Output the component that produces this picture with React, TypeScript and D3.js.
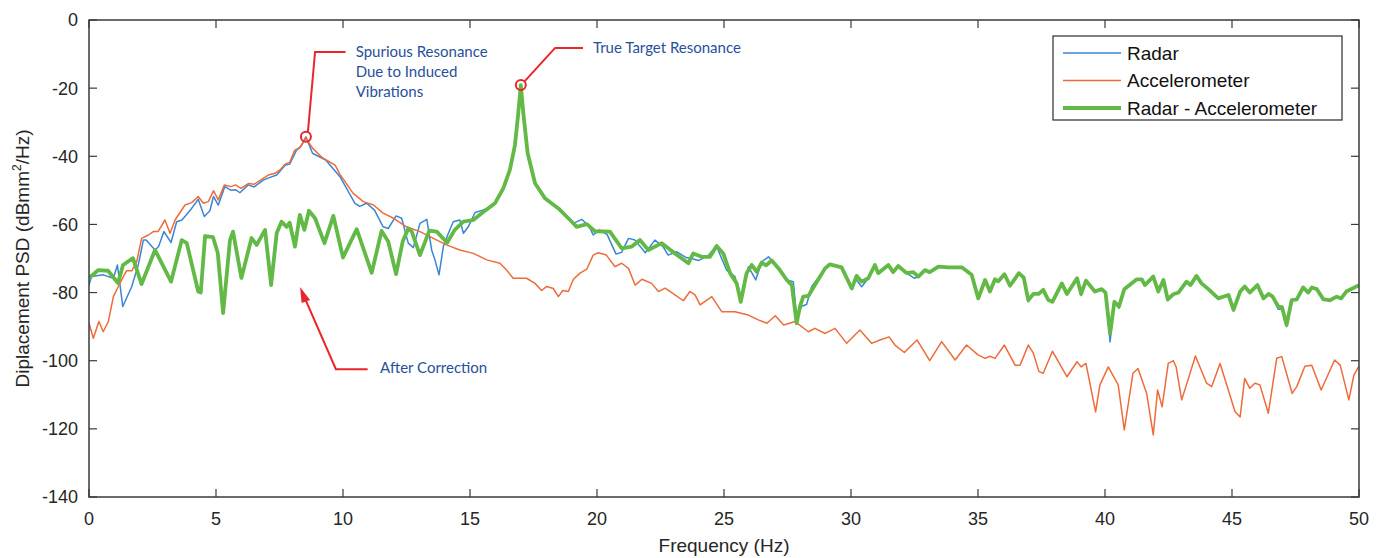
import React from "react";
import * as d3 from "d3";

// [frequency Hz, PSD dB]
const radarPts: [number, number][] = [
  [0, -77.8], [0.1, -75.3], [0.56, -74.8], [0.96, -75.8], [1.12, -71.9], [1.33, -84.1], [1.68, -78.3],
  [1.94, -71.9], [2.14, -64.6], [2.25, -64.6], [2.6, -67.5], [2.74, -66.5], [2.95, -62.1], [3.23, -65.3],
  [3.45, -59.2], [3.66, -58.7], [4.04, -55.3], [4.3, -52.6], [4.54, -57.7], [4.76, -56], [4.9, -51.8],
  [5.09, -54.3], [5.35, -48.9], [5.6, -50], [5.77, -49.8], [5.94, -50.7], [6.27, -48.4], [6.5, -49],
  [6.86, -47], [7.13, -46.2], [7.39, -45.5], [7.72, -42.6], [7.9, -42.3], [8.17, -38.2], [8.35, -37],
  [8.54, -34.3], [8.8, -39.1], [9.32, -41.1], [9.88, -46], [10.14, -49.4], [10.47, -53.8], [10.66, -54.7],
  [10.93, -53.8], [11.24, -55.8], [11.58, -60.7], [11.78, -61.2], [12.09, -57.5], [12.31, -58.2],
  [12.57, -65.5], [12.77, -66.8], [13.03, -59.7], [13.3, -58.5], [13.49, -67.5], [13.62, -70.4],
  [13.78, -74.8], [13.95, -66.5], [14.15, -62.6], [14.34, -59.2], [14.6, -58.7], [14.74, -62.6],
  [14.93, -60.7], [15.2, -56.5], [15.5, -55.8], [15.85, -54.8], [16.0, -53.8], [16.31, -49.4],
  [16.57, -44], [16.77, -36.7], [16.9, -27.4], [17.0, -19.1], [17.1, -27.4], [17.27, -39.1],
  [17.56, -47.9], [17.95, -52.3], [18.48, -55.3], [18.94, -58.7], [19.07, -59.7], [19.4, -58.5],
  [19.7, -60.7], [19.85, -63.1], [20.1, -61.6], [20.4, -63], [20.75, -68.7], [20.97, -68.2],
  [21.24, -64.1], [21.5, -64.6], [21.9, -68.3], [22.28, -64.6], [22.6, -66.5], [22.8, -69], [23.13, -68],
  [23.5, -69.7], [23.73, -70], [23.99, -70.6], [24.4, -69], [24.7, -66.3], [25.1, -73.4], [25.43, -75.3],
  [25.66, -82.2], [25.96, -72.4], [26.25, -76.3], [26.48, -71], [26.75, -69.5], [27.13, -72.9],
  [27.47, -76.3], [27.73, -76.8], [27.86, -87.5], [28.06, -84], [28.25, -83.5], [28.45, -78.3],
  [28.98, -72.9], [29.17, -71.7], [29.63, -72.6], [30.03, -78.8], [30.16, -75.8], [30.42, -78.3],
  [30.68, -75.8], [30.94, -71.9], [31.07, -74.3], [31.47, -71.9], [31.66, -74], [31.86, -72.2],
  [32.19, -74.3], [32.5, -75.8], [32.65, -75.3], [32.91, -73.4], [33.1, -74], [33.44, -72.4],
  [33.83, -72.6], [34.36, -72.6], [34.75, -74.8], [35.01, -81.7], [35.28, -76.3], [35.47, -79.7],
  [35.67, -76.1], [35.8, -76.7], [36.04, -74.6], [36.26, -78], [36.61, -74.3], [36.8, -75.6],
  [36.98, -82.7], [37.18, -80.4], [37.38, -80.4], [37.57, -79.2], [37.77, -82.2], [37.93, -82.7],
  [38.3, -77.3], [38.5, -80.4], [38.9, -75.8], [39.06, -80.9], [39.25, -76.5], [39.6, -79.7],
  [39.87, -79], [40.02, -80], [40.2, -94.5], [40.37, -82.7], [40.55, -84.6], [40.76, -79], [41.25, -76.1],
  [41.45, -76.1], [41.57, -77.8], [41.9, -75.3], [42.1, -79.7], [42.3, -76.3], [42.47, -82.4],
  [42.69, -80.5], [42.89, -80], [43.21, -76.8], [43.37, -77.8], [43.6, -75.1], [43.8, -77.3],
  [44.07, -79], [44.46, -81.7], [44.86, -80.7], [45.06, -85.1], [45.32, -79.7], [45.5, -78.2],
  [45.7, -80], [46.0, -77.8], [46.24, -81.7], [46.44, -80.4], [46.6, -81.2], [46.82, -84.9],
  [46.97, -84.9], [47.15, -90], [47.35, -82.2], [47.55, -82], [47.8, -78.5], [48.0, -80], [48.14, -78.5],
  [48.34, -79], [48.6, -82], [48.86, -82.6], [49.12, -81.2], [49.3, -82], [49.5, -79.7], [50, -77.8],
];

const accelPts: [number, number][] = [
  [0, -89], [0.17, -93.4], [0.39, -88.5], [0.56, -91.5], [0.76, -88.5], [0.96, -81.2], [1.15, -78.3],
  [1.35, -75.3], [1.48, -73.6], [1.68, -73.6], [1.88, -70.9], [2.07, -64.1], [2.34, -63.1], [2.53, -62.1],
  [2.72, -62.1], [2.99, -58.7], [3.19, -62.6], [3.39, -58.7], [3.58, -56.5], [3.78, -54.3], [4.04, -53.6],
  [4.3, -51.8], [4.5, -53.8], [4.7, -53.3], [4.9, -50.1], [5.09, -52.8], [5.33, -48.4], [5.6, -48.9],
  [5.77, -48.4], [5.98, -49.4], [6.27, -48], [6.5, -48.2], [6.8, -46.8], [7.06, -45.5], [7.32, -45],
  [7.52, -44], [7.72, -42.3], [7.9, -41.8], [8.1, -38.2], [8.3, -37.5], [8.54, -34.6], [8.8, -37.6],
  [9.2, -40.5], [9.69, -42.6], [9.88, -45.3], [10.4, -50.9], [10.8, -53.3], [11.2, -54.3], [11.58, -56.7],
  [11.99, -58.2], [12.5, -60.7], [13.03, -62.1], [13.56, -64.1], [14.07, -66], [14.6, -67.5],
  [15.13, -68.5], [15.66, -70.4], [16.18, -71.4], [16.44, -73.4], [16.7, -75.8], [17.23, -75.8],
  [17.56, -77.3], [17.82, -79.4], [18.02, -78.2], [18.28, -78.8], [18.48, -81.2], [18.65, -79.4],
  [18.87, -79.7], [19.07, -76.1], [19.33, -74.3], [19.6, -73.1], [19.85, -69], [20.05, -68.3],
  [20.37, -69], [20.71, -72.4], [20.97, -71.4], [21.24, -72.9], [21.5, -77.8], [21.77, -76.1],
  [22.15, -77.3], [22.42, -79.7], [22.68, -78.7], [23.07, -80.7], [23.4, -82.4], [23.66, -79.7],
  [23.86, -80.7], [24.06, -83.6], [24.52, -81.2], [24.91, -85.6], [25.43, -85.6], [25.96, -86.6],
  [26.35, -88], [26.69, -89], [27.02, -86.8], [27.35, -89.5], [27.8, -88.5], [28.32, -91.5],
  [28.58, -90.5], [28.98, -92], [29.37, -90.5], [29.83, -94.9], [30.35, -91], [30.81, -94.9],
  [31.14, -93.9], [31.5, -93], [31.73, -95.4], [32.1, -97.6], [32.6, -93.9], [33.1, -100], [33.57, -94.4],
  [34.1, -99.8], [34.55, -95.4], [35.0, -98.3], [35.28, -99.3], [35.47, -98.7], [35.67, -99.3],
  [36.04, -95.4], [36.46, -101.3], [36.66, -101.3], [36.98, -95.4], [37.18, -97.8], [37.4, -103.2],
  [37.57, -103.7], [37.93, -97.2], [38.5, -104.7], [38.9, -100.3], [39.06, -101.8], [39.25, -100.8],
  [39.63, -115], [39.8, -107.1], [40.13, -101.8], [40.52, -107.1], [40.76, -120.3], [41.1, -103.7],
  [41.3, -102.3], [41.64, -109.6], [41.9, -121.8], [42.07, -108.6], [42.25, -113.5], [42.49, -100.8],
  [42.69, -100], [42.8, -101.8], [43.02, -111.5], [43.56, -98.6], [44.0, -106.6], [44.2, -107.6],
  [44.53, -100.8], [45.12, -115], [45.32, -116.5], [45.5, -105.2], [45.7, -108.1], [45.9, -106.6],
  [46.1, -107.1], [46.43, -115.4], [46.76, -99.3], [46.96, -98.8], [47.37, -109.6], [47.55, -107.6],
  [47.87, -101.6], [48.14, -101.3], [48.51, -108.6], [49.04, -99.8], [49.26, -101.3], [49.6, -111.5],
  [49.8, -104.2], [50, -101.6],
];

const correctedPts: [number, number][] = [
  [0, -75.7], [0.37, -73.4], [0.75, -73.6], [1.14, -77.2], [1.34, -71.9], [1.73, -69.9], [2.07, -77.5],
  [2.6, -67.5], [3.23, -76.8], [3.65, -64.6], [3.85, -65.5], [4.3, -79.7], [4.4, -80], [4.57, -63.4],
  [4.88, -63.7], [5.07, -68.4], [5.28, -86], [5.55, -64.6], [5.67, -62.1], [6.0, -75.7], [6.4, -64],
  [6.6, -66], [6.93, -61.6], [7.17, -77.8], [7.39, -62.5], [7.58, -59.2], [7.78, -60.7], [7.9, -59.5],
  [8.11, -66.5], [8.3, -57.2], [8.48, -61.6], [8.66, -56], [8.9, -58.2], [9.27, -65.5], [9.62, -57.5],
  [10.0, -69.7], [10.54, -61.4], [11.13, -74.2], [11.52, -61.9], [11.78, -65], [12.09, -74.6],
  [12.35, -65], [12.57, -61.2], [12.7, -62], [13.03, -69], [13.4, -61.8], [13.69, -62.1], [14.1, -65.4],
  [14.4, -61.6], [14.74, -59.2], [15.13, -58.7], [15.46, -56.7], [15.98, -53.8], [16.31, -49.4],
  [16.57, -44], [16.77, -36.7], [16.9, -27.4], [17.0, -19.1], [17.1, -27.4], [17.27, -39.1],
  [17.56, -47.9], [17.95, -52.3], [18.48, -55.3], [18.94, -58.7], [19.2, -60.7], [19.6, -59.9],
  [19.92, -62], [20.51, -62.1], [20.97, -67], [21.37, -66.5], [21.69, -64.6], [22.02, -67.5],
  [22.55, -65.5], [23.07, -68.5], [23.6, -71.4], [23.79, -68.5], [24.12, -69.5], [24.45, -69.5],
  [24.71, -66.3], [24.97, -68.5], [25.24, -74.3], [25.5, -77.3], [25.66, -82.7], [25.89, -74.3],
  [26.09, -71.9], [26.29, -73.9], [26.48, -71.2], [26.66, -72], [26.88, -70.6], [27.2, -73.4],
  [27.47, -76.3], [27.67, -77.8], [27.86, -89], [27.99, -84.1], [28.12, -81.2], [28.32, -81],
  [28.58, -77.8], [28.98, -72.9], [29.17, -71.7], [29.63, -72.6], [30.03, -78.8], [30.22, -75.1],
  [30.42, -76.8], [30.68, -75.8], [30.94, -71.9], [31.07, -74.3], [31.47, -71.9], [31.66, -74],
  [31.86, -72.2], [32.19, -74.3], [32.45, -74], [32.65, -75.3], [32.91, -73.4], [33.1, -74],
  [33.44, -72.4], [33.83, -72.6], [34.36, -72.6], [34.75, -74.8], [35.01, -81.7], [35.28, -76.3],
  [35.47, -79.7], [35.67, -76.1], [35.8, -76.7], [36.04, -74.6], [36.26, -78], [36.61, -74.3],
  [36.8, -75.6], [36.98, -82.2], [37.18, -80.4], [37.38, -80.4], [37.57, -79.2], [37.77, -82.2],
  [37.93, -82.7], [38.3, -77.3], [38.5, -80.4], [38.9, -75.8], [39.06, -80.4], [39.25, -76.5],
  [39.6, -79.7], [39.87, -79], [40.02, -80], [40.2, -92], [40.37, -82.7], [40.55, -84.1], [40.76, -79],
  [41.25, -76.1], [41.45, -76.1], [41.57, -77.8], [41.9, -75.3], [42.1, -79.7], [42.3, -76.3],
  [42.47, -82], [42.69, -80.5], [42.89, -80], [43.21, -76.8], [43.37, -77.8], [43.6, -75.1],
  [43.8, -77.3], [44.07, -79], [44.46, -81.7], [44.86, -80.7], [45.06, -85.1], [45.32, -79.7],
  [45.5, -78.2], [45.7, -80], [46.0, -77.8], [46.24, -81.7], [46.44, -80.4], [46.6, -81.2],
  [46.82, -84.1], [46.97, -84.3], [47.15, -89.5], [47.35, -82.2], [47.55, -82], [47.8, -78.5],
  [48.0, -80], [48.14, -78.5], [48.34, -79], [48.6, -82], [48.86, -82.2], [49.12, -81.2], [49.3, -81.7],
  [49.5, -79.7], [50, -77.8],
];

const xTicks = [0, 5, 10, 15, 20, 25, 30, 35, 40, 45, 50];
const yTicks = [0, -20, -40, -60, -80, -100, -120, -140];
const legendLabels = ["Radar", "Accelerometer", "Radar - Accelerometer"];

const W = 1386;
const H = 558;
const margin = { top: 20, right: 27, bottom: 61, left: 89 };
const FONT = "Arial, 'Liberation Sans', sans-serif";
const NOTE_FONT = "Lato, 'Open Sans', sans-serif";
const NOTE_COLOR = "#27509b";
const RED = "#e8262b";

const App: React.FC = () => {
  const x = d3.scaleLinear().domain([0, 50]).range([margin.left, W - margin.right]);
  const y = d3.scaleLinear().domain([-140, 0]).range([H - margin.bottom, margin.top]);
  const line = d3
    .line<[number, number]>()
    .x((d) => x(d[0]))
    .y((d) => y(d[1]));

  const x0 = x(0);
  const x1 = x(50);
  const yTop = y(0);
  const yBot = y(-140);

  const series = [
    { pts: radarPts, color: "#3a86d4", width: 1.5 },
    { pts: accelPts, color: "#ee6b3b", width: 1.5 },
    { pts: correctedPts, color: "#62b946", width: 3.8 },
  ];

  // annotation anchors (data coords)
  const spur = { cx: x(8.54), cy: y(-34.3) };
  const target = { cx: x(17.0), cy: y(-19.1) };
  const tip = { x: x(8.31), y: y(-78.4) };

  const legX = 1053;
  const legY = 36;

  return (
    <svg
      width={W}
      height={H}
      style={{ position: "absolute", left: 0, top: 0, background: "#fff" }}
      fontFamily={FONT}
    >
      <defs>
        <clipPath id="plotClip">
          <rect x={x0} y={yTop} width={x1 - x0} height={yBot - yTop} />
        </clipPath>
      </defs>

      {/* data lines */}
      <g clipPath="url(#plotClip)">
        {series.map((s, i) => (
          <path
            key={i}
            d={line(s.pts) || ""}
            fill="none"
            stroke={s.color}
            strokeWidth={s.width}
            strokeLinejoin="round"
          />
        ))}
      </g>

      {/* axes box and ticks */}
      <rect x={x0} y={yTop} width={x1 - x0} height={yBot - yTop} fill="none" stroke="#3a3a3a" strokeWidth={1.5} />
      {xTicks.map((t) => (
        <g key={`x${t}`}>
          <line x1={x(t)} x2={x(t)} y1={yBot} y2={yBot - 8} stroke="#3a3a3a" strokeWidth={1.2} />
          <line x1={x(t)} x2={x(t)} y1={yTop} y2={yTop + 8} stroke="#3a3a3a" strokeWidth={1.2} />
          <text x={x(t)} y={yBot + 28} textAnchor="middle" fontSize={18} fill="#262626">
            {t}
          </text>
        </g>
      ))}
      {yTicks.map((t) => (
        <g key={`y${t}`}>
          <line x1={x0} x2={x0 + 8} y1={y(t)} y2={y(t)} stroke="#3a3a3a" strokeWidth={1.2} />
          <line x1={x1} x2={x1 - 8} y1={y(t)} y2={y(t)} stroke="#3a3a3a" strokeWidth={1.2} />
          <text x={x0 - 11} y={y(t)} dy="0.36em" textAnchor="end" fontSize={18} fill="#262626">
            {t}
          </text>
        </g>
      ))}

      {/* axis labels */}
      <text x={(x0 + x1) / 2} y={yBot + 55} textAnchor="middle" fontSize={19} fill="#262626">
        Frequency (Hz)
      </text>
      <text
        transform={`translate(29, ${(yTop + yBot) / 2}) rotate(-90)`}
        textAnchor="middle"
        fontSize={19}
        fill="#262626"
      >
        Diplacement PSD (dBmm
        <tspan dy={-8} fontSize={12}>
          2
        </tspan>
        <tspan dy={8}>/Hz)</tspan>
      </text>

      {/* legend */}
      <rect x={legX} y={legY} width={289} height={84} fill="#fff" stroke="#2b2b2b" strokeWidth={1.2} />
      {legendLabels.map((lab, i) => {
        const ly = legY + 17 + i * 27.5;
        return (
          <g key={lab}>
            <line
              x1={legX + 10}
              x2={legX + 68}
              y1={ly}
              y2={ly}
              stroke={series[i].color}
              strokeWidth={i === 2 ? 4 : 1.5}
            />
            <text x={legX + 74} y={ly} dy="0.36em" fontSize={19} fill="#111">
              {lab}
            </text>
          </g>
        );
      })}

      {/* annotation: spurious resonance */}
      <circle cx={spur.cx} cy={spur.cy} r={5} fill="none" stroke={RED} strokeWidth={2} />
      <polyline
        points={`${spur.cx + 2},${spur.cy - 5} ${x(8.9)},${y(-9.4)} ${x(10.1)},${y(-9.4)}`}
        fill="none"
        stroke={RED}
        strokeWidth={2}
      />
      <text fontFamily={NOTE_FONT} fontSize={15} fill={NOTE_COLOR}>
        <tspan x={x(10.5)} y={y(-9.4) + 5}>Spurious Resonance</tspan>
        <tspan x={x(10.5)} y={y(-9.4) + 25}>Due to Induced</tspan>
        <tspan x={x(10.5)} y={y(-9.4) + 45}>Vibrations</tspan>
      </text>

      {/* annotation: true target resonance */}
      <circle cx={target.cx} cy={target.cy} r={5} fill="none" stroke={RED} strokeWidth={2} />
      <polyline
        points={`${target.cx + 4},${target.cy - 4} ${x(18.35)},${y(-8.2)} ${x(19.45)},${y(-8.2)}`}
        fill="none"
        stroke={RED}
        strokeWidth={2}
      />
      <text x={x(19.84)} y={y(-8.2) + 5} fontFamily={NOTE_FONT} fontSize={15} fill={NOTE_COLOR}>
        True Target Resonance
      </text>

      {/* annotation: after correction arrow */}
      <polyline
        points={`${x(10.97)},${y(-102.5)} ${x(9.72)},${y(-102.5)} ${tip.x + 3},${tip.y + 7}`}
        fill="none"
        stroke={RED}
        strokeWidth={2}
      />
      <polygon
        points={`${tip.x},${tip.y} ${tip.x + 10},${tip.y + 13} ${tip.x + 1.5},${tip.y + 16}`}
        fill={RED}
      />
      <text x={x(11.46)} y={y(-102.5) + 4} fontFamily={NOTE_FONT} fontSize={15} fill={NOTE_COLOR}>
        After Correction
      </text>
    </svg>
  );
};

export default App;
